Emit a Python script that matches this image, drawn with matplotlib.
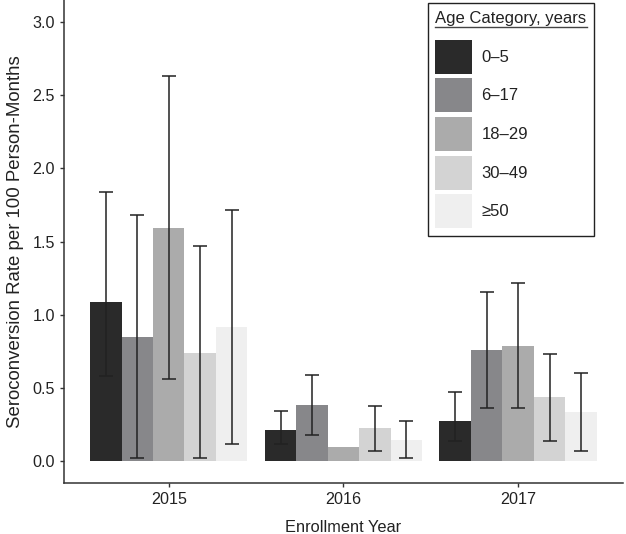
import numpy as np
import matplotlib
matplotlib.use("Agg")
import matplotlib.pyplot as plt
from matplotlib.lines import Line2D

plt.rcParams['font.family'] = ['Liberation Sans', 'DejaVu Sans']

# Data
years = ['2015', '2016', '2017']
ages = ['0\u20135', '6\u201317', '18\u201329', '30\u201349', '\u226550']
colors = ['#2a2a2a', '#87878a', '#ababab', '#d3d3d3', '#efefef']

# rate per 100 person-months, rows = age category, cols = year
rate = [
    [1.087, 0.214, 0.273],
    [0.848, 0.386, 0.759],
    [1.590, 0.098, 0.787],
    [0.743, 0.225, 0.436],
    [0.916, 0.148, 0.337],
]
lower = [
    [0.58, 0.12, 0.14],
    [0.023, 0.180, 0.366],
    [0.559, np.nan, 0.366],
    [0.023, 0.073, 0.136],
    [0.119, 0.023, 0.071],
]
upper = [
    [1.838, 0.343, 0.475],
    [1.680, 0.593, 1.157],
    [2.634, np.nan, 1.218],
    [1.473, 0.380, 0.734],
    [1.716, 0.275, 0.605],
]

fig = plt.figure(figsize=(6.26, 5.34), dpi=100)
ax = fig.add_axes([0.1022, 0.0949, 0.8928, 0.9051])

width = 0.18
x = np.arange(1, len(years) + 1)
for i, age in enumerate(ages):
    pos = x + (i - 2) * width
    r = np.array(rate[i])
    lo = np.array(lower[i])
    hi = np.array(upper[i])
    ax.bar(pos, r, width=width, color=colors[i], label=age, zorder=1)
    ok = ~np.isnan(lo)
    ax.errorbar(pos[ok], r[ok], yerr=[r[ok] - lo[ok], hi[ok] - r[ok]],
                fmt='none', ecolor='#222222', elinewidth=1.1, capsize=5,
                capthick=1.1, zorder=2)

ax.set_xlim(0.4, 3.6)
ax.set_ylim(-0.15, 3.15)
ax.set_xticks(x)
ax.set_xticklabels(years)
ax.set_yticks([0, 0.5, 1.0, 1.5, 2.0, 2.5, 3.0])
ax.set_yticklabels(['0.0', '0.5', '1.0', '1.5', '2.0', '2.5', '3.0'])

for s in ['top', 'right']:
    ax.spines[s].set_visible(False)
for s in ['left', 'bottom']:
    ax.spines[s].set_color('#333333')
    ax.spines[s].set_linewidth(1.1)
ax.tick_params(axis='both', colors='#333333', labelcolor='#222222',
               labelsize=11.6, length=3, width=1.0)

ax.set_xlabel('Enrollment Year', fontsize=11.8, color='#222222', labelpad=9)
ax.set_ylabel('Seroconversion Rate per 100 Person-Months', fontsize=13.4,
              color='#222222', labelpad=6)

leg = ax.legend(title='Age Category, years', loc='upper right',
                bbox_to_anchor=(0.949, 0.994), bbox_transform=fig.transFigure,
                fontsize=12, title_fontsize=12, fancybox=False,
                edgecolor='#222222', framealpha=1, handlelength=2.22,
                handleheight=2.76, labelspacing=0.28, handletextpad=0.54,
                borderpad=0.45, borderaxespad=0, alignment='left')
leg.get_frame().set_linewidth(1.0)
leg.get_title().set_color('#222222')
for t in leg.get_texts():
    t.set_color('#222222')
# more room between title and keys
leg._legend_box.sep = 10

# underline the legend title
fig.canvas.draw()
bb = leg.get_title().get_window_extent()
fig.add_artist(Line2D([bb.x0, bb.x1], [bb.y0 - 1, bb.y0 - 1],
                      transform=None, color='#444444', linewidth=1.0))

fig.savefig('out.png', dpi=100)
